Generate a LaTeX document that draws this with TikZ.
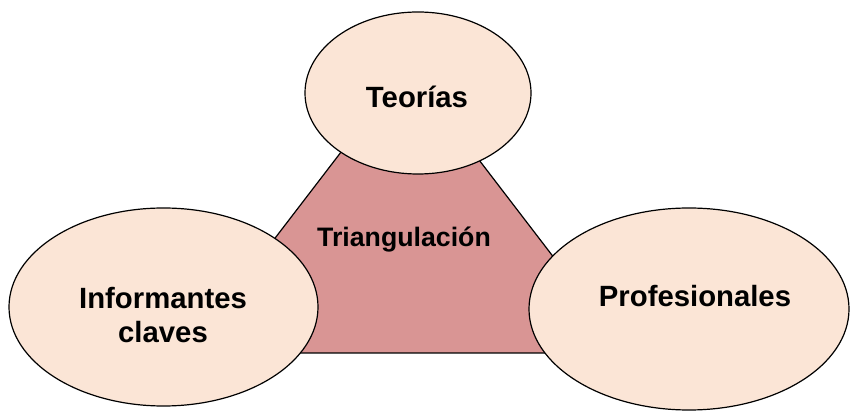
\documentclass[tikz,border=0pt]{standalone}
\usepackage{fontspec}
\setmainfont{Liberation Sans}
\usepackage{xcolor}
\usepackage{tikz}
\usetikzlibrary{positioning,shapes.geometric}

\definecolor{peach}{HTML}{FBE5D6}
\definecolor{rose}{HTML}{D99594}

\begin{document}
\begin{tikzpicture}[x=1pt,y=-1pt,thick]

\tikzstyle{blob}=[ellipse,draw,fill=peach,line width=1.2pt,inner sep=0pt]
\tikzstyle{label}=[font=\fontsize{29.3}{34}\selectfont\bfseries,anchor=base,inner sep=0pt,align=center]

\useasboundingbox (0,0) rectangle (851,411);

% the triangle behind
\coordinate (apex) at (407,66);
\coordinate (left) at (187,353);
\coordinate (right) at (627,353);
\draw[fill=rose,line width=1.2pt] (apex) -- (left) -- (right) -- cycle;

% the three ellipses
\node[blob,minimum width=226pt,minimum height=162pt] (teo) at (418,93) {};
\node[blob,minimum width=309pt,minimum height=198pt] (inf) at (163.5,307) {};
\node[blob,minimum width=320pt,minimum height=202pt] (pro) at (689,309) {};

% texts
\node[label] (tteo) at (417,108) {Teorías};
\node[label,font=\fontsize{26.7}{32}\selectfont\bfseries] (ttri) at (404,247) {Triangulación};
\node[label] (tinf) at (163,309) {Informantes};
\node[label] (tinf2) at (163,343) {claves};
\node[label] (tpro) at (695,307) {Profesionales};

\end{tikzpicture}
\end{document}
